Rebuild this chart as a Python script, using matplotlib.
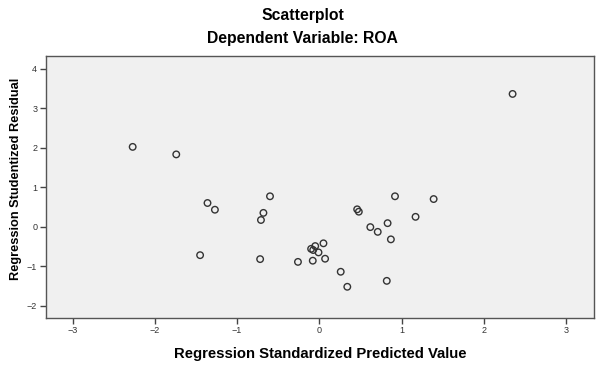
import matplotlib
matplotlib.use("Agg")
import matplotlib.pyplot as plt

plt.rcParams['font.family'] = ['Liberation Sans', 'DejaVu Sans']

pred = [-2.27, -1.74, -1.36, -1.27, -0.60, -0.68, -0.71, -1.45, -0.72, -0.26,
        -0.08, -0.10, -0.075, -0.05, -0.01, 0.05, 0.07, 0.26, 0.34, 0.46,
        0.48, 0.62, 0.71, 0.83, 0.87, 0.92, 0.82, 1.17, 1.39, 2.35]
resid = [2.02, 1.83, 0.60, 0.43, 0.77, 0.35, 0.17, -0.72, -0.82, -0.89,
         -0.86, -0.56, -0.59, -0.49, -0.65, -0.42, -0.81, -1.14, -1.52, 0.44,
         0.38, -0.01, -0.13, 0.09, -0.32, 0.77, -1.37, 0.25, 0.70, 3.36]
xticks = [-3, -2, -1, 0, 1, 2, 3]
yticks = [-2, -1, 0, 1, 2, 3, 4]

W, H = 605, 367
fig = plt.figure(figsize=(W / 100, H / 100), dpi=100)
fig.patch.set_facecolor('white')
ax = fig.add_axes([45.5 / W, 1 - 318 / H, 548.5 / W, 262 / H])
ax.set_facecolor('#F0F0F0')
ax.scatter(pred, resid, s=22, facecolors='none', edgecolors='#333333', linewidths=1.0)
ax.set_xlim(-3.33, 3.34)
ax.set_ylim(-2.31, 4.32)
ax.set_xticks(xticks)
ax.set_yticks(yticks)
ax.tick_params(direction='out', length=4, width=1, color='#444444',
               labelsize=6.5, labelcolor='#333333', pad=2)
for sp in ax.spines.values():
    sp.set_color('#555555')
    sp.set_linewidth(1.0)

fig.text(0.5, 1 - 20 / H, 'Scatterplot', ha='center', va='baseline',
         fontsize=11.3, fontweight='bold')
fig.text(0.5, 1 - 42.6 / H, 'Dependent Variable: ROA', ha='center', va='baseline',
         fontsize=11.3, fontweight='bold')
fig.text((172.7 + 295 / 2) / W, 1 - 357.7 / H, 'Regression Standardized Predicted Value',
         ha='center', va='baseline', fontsize=10.7, fontweight='bold')
fig.text(16 / W, 1 - 179 / H, 'Regression Studentized Residual', rotation=90,
         ha='center', va='center', fontsize=9.2, fontweight='bold')

fig.savefig('out.png', dpi=100)
